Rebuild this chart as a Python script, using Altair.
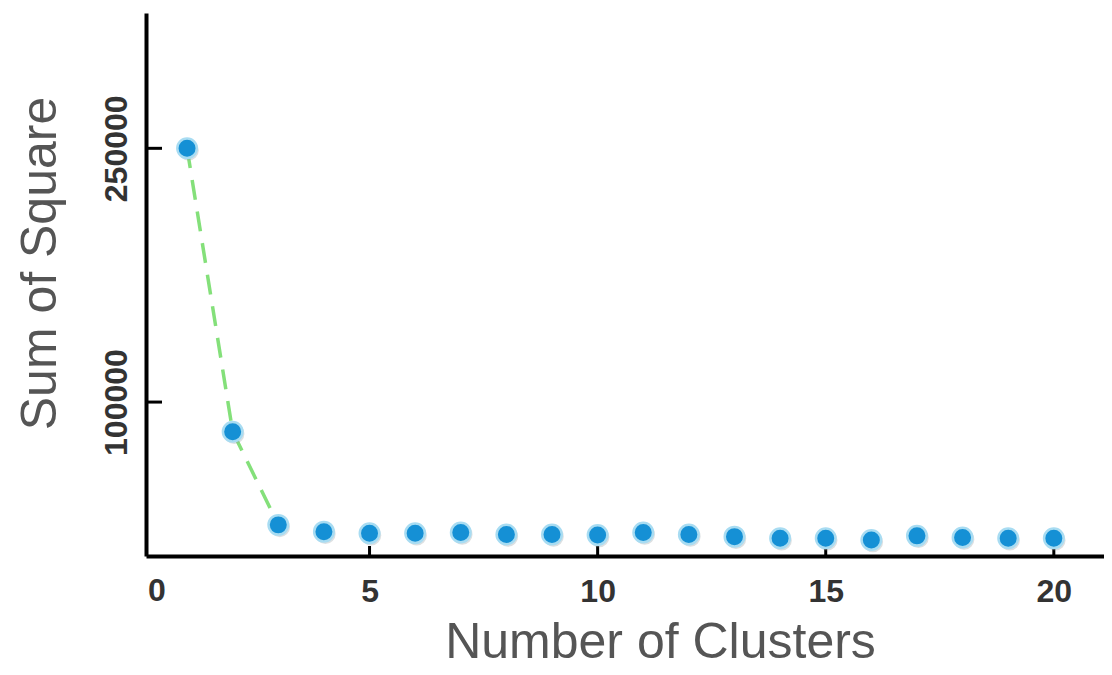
import altair as alt
import pandas as pd

# Data
clusters = [1, 2, 3, 4, 5, 6, 7, 8, 9, 10, 11, 12, 13, 14, 15, 16, 17, 18, 19, 20]
sum_of_square = [250000, 82500, 27400, 23400, 22450, 22450, 22900, 21750, 21750, 21450,
                 22900, 21750, 20450, 19500, 19500, 18500, 20900, 19900, 19500, 19500]
x_tick_values = [0, 5, 10, 15, 20]
y_tick_values = [100000, 250000]
elbow_last = 3

df = pd.DataFrame({"k": clusters, "ss": sum_of_square})
df_xt = pd.DataFrame({"v": x_tick_values})
df_yt = pd.DataFrame({"v": y_tick_values})

FONT = "Liberation Sans"
W, H = 958, 543

xscale = alt.Scale(domain=[0.1, 21.1], nice=False, zero=False)
yscale = alt.Scale(domain=[9000, 330000], nice=False, zero=False)

x_axis = alt.Axis(
    values=x_tick_values[1:], format="d", grid=False, ticks=False, tickSize=0,
    domainColor="black", domainWidth=4,
    labelFont=FONT, labelFontSize=32, labelFontWeight="bold", labelColor="#333333",
    labelPadding=20,
    title="Number of Clusters", titleFont=FONT, titleFontSize=50,
    titleFontWeight="normal", titleColor="#555555",
    titleX=514, titleY=101, titleAlign="center", titleBaseline="alphabetic",
)
y_axis = alt.Axis(
    values=y_tick_values, format="d", grid=False, ticks=False, tickSize=0,
    domainColor="black", domainWidth=4,
    labelFont=FONT, labelFontSize=32, labelFontWeight="bold", labelColor="#333333",
    labelAngle=270, labelAlign="center", labelBaseline="bottom", labelPadding=13,
    title="Sum of Square", titleFont=FONT, titleFontSize=50,
    titleFontWeight="normal", titleColor="#555555",
    titleAngle=270, titleX=-106, titleY=250, titleAlign="center", titleBaseline="middle",
)

base = alt.Chart(df)

line = base.transform_filter(alt.datum.k <= elbow_last).mark_line(
    color="#84e07a", strokeWidth=3.5, strokeDash=[20, 12]
).encode(
    x=alt.X("k:Q", scale=xscale, axis=x_axis),
    y=alt.Y("ss:Q", scale=yscale, axis=y_axis),
)

shadow = base.mark_circle(
    size=420, color="#9aa7ad", opacity=0.35, xOffset=1.5, yOffset=2
).encode(
    x=alt.X("k:Q", scale=xscale),
    y=alt.Y("ss:Q", scale=yscale),
)

points = base.mark_circle(
    size=380, color="#1590d5", stroke="#a8dcf2", strokeWidth=2.5, opacity=1
).encode(
    x=alt.X("k:Q", scale=xscale),
    y=alt.Y("ss:Q", scale=yscale),
)

yticks = alt.Chart(df_yt).mark_rule(color="black", strokeWidth=3).encode(
    y=alt.Y("v:Q", scale=yscale),
    x=alt.value(0), x2=alt.value(16),
)
xticks = alt.Chart(df_xt).transform_filter(alt.datum.v > 0).mark_rule(
    color="black", strokeWidth=3
).encode(
    x=alt.X("v:Q", scale=xscale),
    y=alt.value(H), y2=alt.value(H - 10),
)
zero_label = alt.Chart(df_xt).transform_filter(alt.datum.v == 0).mark_text(
    font=FONT, fontSize=32, fontWeight="bold", color="#333333",
    align="left", baseline="top", dy=20, dx=2
).encode(
    text=alt.Text("v:Q", format="d"),
    x=alt.value(0),
    y=alt.value(H),
)

chart = alt.layer(line, yticks, xticks, shadow, points, zero_label).properties(
    width=W, height=H,
    autosize=alt.AutoSizeParams(type="none"),
    padding={"left": 138, "top": 5, "right": 0, "bottom": 111},
    background="white",
).configure_view(stroke=None)

chart.save("out.html", embed_options={"renderer": "svg", "actions": False})
